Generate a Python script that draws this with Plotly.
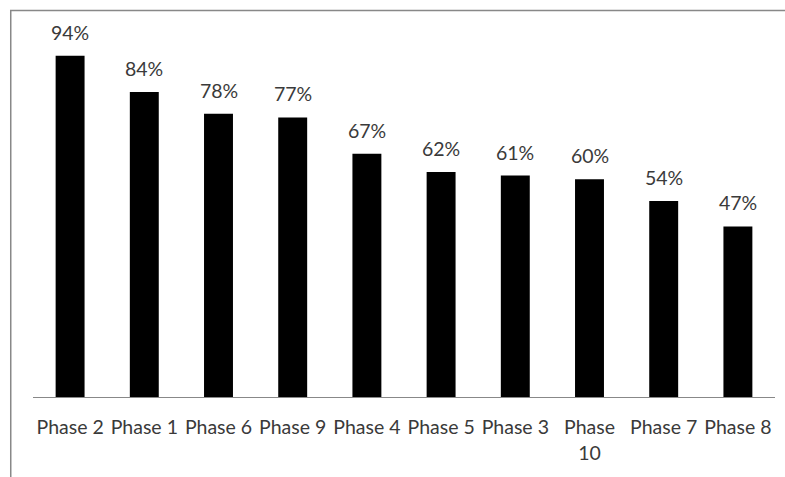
import plotly.graph_objects as go

categories = ["Phase 2", "Phase 1", "Phase 6", "Phase 9", "Phase 4",
              "Phase 5", "Phase 3", "Phase<br>10", "Phase 7", "Phase 8"]
values = [0.94, 0.84, 0.78, 0.77, 0.67, 0.62, 0.61, 0.60, 0.54, 0.47]
labels = ["94%", "84%", "78%", "77%", "67%", "62%", "61%", "60%", "54%", "47%"]

FONT = "Lato, 'Open Sans', sans-serif"
TXT = "#3a3a3a"
FS = 19.5

fig = go.Figure(go.Bar(x=categories, y=values, marker=dict(color="black", line=dict(width=0))))

for c, v, l in zip(categories, values, labels):
    fig.add_annotation(x=c, y=v, text=l, showarrow=False, yanchor="bottom",
                       yshift=10, font=dict(family=FONT, size=FS, color=TXT))

fig.add_shape(type="rect", xref="paper", yref="paper", x0=-0.030, x1=1.2, y0=-0.4, y1=1.065,
              line=dict(color="#888888", width=1.5), fillcolor="rgba(0,0,0,0)", layer="below")

fig.update_layout(
    width=785, height=477,
    margin=dict(l=33, r=10, t=34, b=80),
    paper_bgcolor="white", plot_bgcolor="white",
    bargap=0.61,
    showlegend=False,
    font=dict(family=FONT, size=FS, color=TXT),
)
fig.update_xaxes(showline=True, linecolor="#888888", linewidth=1, ticks="", showgrid=False,
                 ticklabelstandoff=13,
                 tickfont=dict(family=FONT, size=FS, color=TXT))
fig.update_yaxes(range=[0, 1], visible=False, showgrid=False)

fig.write_html("out.html")
